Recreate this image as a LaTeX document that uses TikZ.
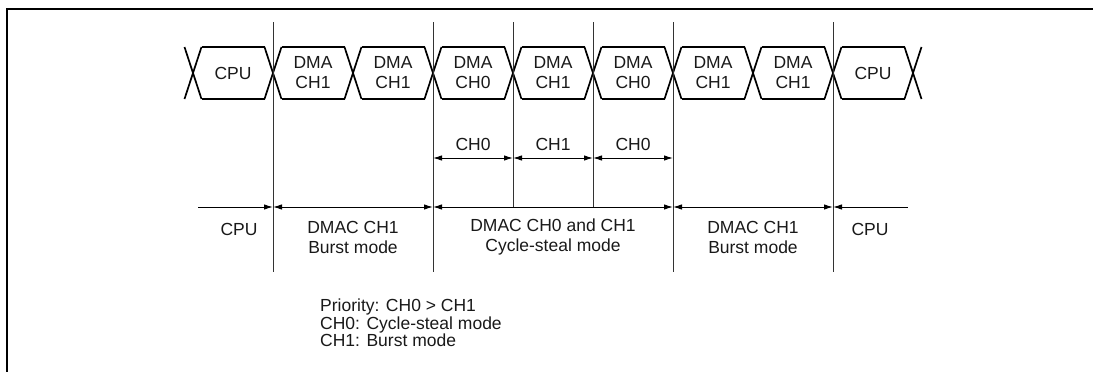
\documentclass[tikz,border=0pt]{standalone}
\usepackage{fontspec}
\setmainfont{Liberation Sans}
\usetikzlibrary{arrows.meta,calc}
\begin{document}
\begin{tikzpicture}[x=1pt,y=-1pt,
  txt/.style={font=\fontsize{17.5}{20}\selectfont, text=black!90, inner sep=0pt, align=center},
  bus/.style={line width=1.7pt},
  vline/.style={line width=0.9pt, black!80},
  dim/.style={line width=1pt, {Latex[length=9pt,width=5.5pt]}-{Latex[length=9pt,width=5.5pt]}},
  dimr/.style={line width=1pt, -{Latex[length=9pt,width=5.5pt]}},
  diml/.style={line width=1pt, {Latex[length=9pt,width=5.5pt]}-}
  ]
\useasboundingbox (0,0) rectangle (1093,372);
% frame (top and left edges)
\draw[line width=2pt] (7,372) -- (7,9) -- (1093,9);

% bus waveform
\foreach \i in {0,...,9} {
  \pgfmathsetmacro\xx{193+80*\i}
  \draw[bus] (\xx-8.5,47) -- (\xx+8.5,99) (\xx-8.5,99) -- (\xx+8.5,47);
}
\foreach \i in {0,...,8} {
  \pgfmathsetmacro\xa{193+80*\i+8.5}
  \pgfmathsetmacro\xb{193+80*\i+80-8.5}
  \draw[bus] (\xa,47) -- (\xb,47) (\xa,99) -- (\xb,99);
}
\foreach \t [count=\i from 0] in {CPU, DMA\\CH1, DMA\\CH1, DMA\\CH0, DMA\\CH1, DMA\\CH0, DMA\\CH1, DMA\\CH1, CPU} {
  \node[txt] (w\i) at (233+80*\i,73) {\t};
}

% time markers
\foreach \n/\x/\yb in {m1/273/272, m2/433/272, m3/513/207, m4/593/207, m5/673/272, m6/833/272} {
  \coordinate (\n top) at (\x,22);
  \coordinate (\n bot) at (\x,\yb);
  \draw[vline] (\n top) -- (\n bot);
}

% cycle-steal slots
\coordinate (c0) at (433,158);
\coordinate (c1) at (513,158);
\coordinate (c2) at (593,158);
\coordinate (c3) at (673,158);
\draw[dim] (c0) -- (c1);
\draw[dim] (c1) -- (c2);
\draw[dim] (c2) -- (c3);
\node[txt] (s0) at (473,144) {CH0};
\node[txt] (s1) at (553,144) {CH1};
\node[txt] (s2) at (633,144) {CH0};

% mode arrows
\coordinate (a0) at (198,207);
\coordinate (a1) at (273,207);
\coordinate (a2) at (433,207);
\coordinate (a3) at (673,207);
\coordinate (a4) at (833,207);
\coordinate (a5) at (908,207);
\draw[dimr] (a0) -- (a1);
\draw[dim] (a1) -- (a2);
\draw[dim] (a2) -- (a3);
\draw[dim] (a3) -- (a4);
\draw[diml] (a4) -- (a5);

\node[txt] (l0) at (239,229) {CPU};
\node[txt] (l1) at (353,237) {DMAC CH1\\Burst mode};
\node[txt] (l2) at (553,237) {DMAC CH0 and CH1\\Cycle-steal mode};
\node[txt] (l3) at (753,237) {DMAC CH1\\Burst mode};
\node[txt] (l4) at (870,229) {CPU};

% legend
\node[txt, align=left, anchor=west, font=\fontsize{17.5}{17.5}\selectfont] (leg) at (320,323)
  {Priority: CH0 > CH1\\CH0: Cycle-steal mode\\CH1: Burst mode};
\end{tikzpicture}
\end{document}
